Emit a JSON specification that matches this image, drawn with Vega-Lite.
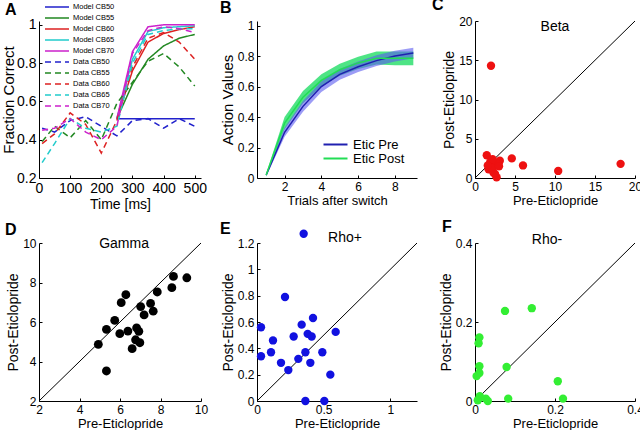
{
  "$schema": "https://vega.github.io/schema/vega-lite/v6.json",
  "padding": {"left": 1, "top": -3, "right": 0, "bottom": 0},
  "background": "white",
  "columns": 3,
  "spacing": {"row": 64, "column": 56},
  "bounds": "flush",
  "align": "all",
  "resolve": {"scale": {"color": "independent", "strokeDash": "independent", "x": "independent", "y": "independent"}, "legend": {"color": "independent", "strokeDash": "independent"}},
  "config": {
    "font": "Liberation Sans",
    "view": {"stroke": null},
    "axis": {"domainColor": "black", "tickColor": "black", "labelColor": "black", "titleColor": "black", "grid": false, "labelFontSize": 12, "titleFontSize": 13, "titleFontWeight": "normal", "tickSize": -3, "labelPadding": 6, "titlePadding": 2, "labelFont": "Liberation Sans", "titleFont": "Liberation Sans", "format": "~f", "labelOverlap": false, "labelFlush": false},
    "axisY": {"titleFontSize": 14},
    "title": {"font": "Liberation Sans", "fontSize": 16, "fontWeight": "bold", "anchor": "start", "color": "black", "frame": "group", "baseline": "alphabetic"}
  },
  "concat": [
    {
      "title": {"text": "A", "dx": -34, "offset": -16},
      "width": 162, "height": 157,
      "data": {"values": [
        {"t": 250, "v": 0.51, "s": "Model CB50"}, {"t": 300, "v": 0.51, "s": "Model CB50"}, {"t": 350, "v": 0.51, "s": "Model CB50"}, {"t": 400, "v": 0.51, "s": "Model CB50"}, {"t": 450, "v": 0.51, "s": "Model CB50"}, {"t": 500, "v": 0.51, "s": "Model CB50"},
        {"t": 250, "v": 0.51, "s": "Model CB55"}, {"t": 300, "v": 0.69, "s": "Model CB55"}, {"t": 350, "v": 0.82, "s": "Model CB55"}, {"t": 400, "v": 0.89, "s": "Model CB55"}, {"t": 450, "v": 0.93, "s": "Model CB55"}, {"t": 500, "v": 0.95, "s": "Model CB55"},
        {"t": 250, "v": 0.51, "s": "Model CB60"}, {"t": 300, "v": 0.76, "s": "Model CB60"}, {"t": 350, "v": 0.91, "s": "Model CB60"}, {"t": 400, "v": 0.955, "s": "Model CB60"}, {"t": 450, "v": 0.975, "s": "Model CB60"}, {"t": 500, "v": 0.99, "s": "Model CB60"},
        {"t": 250, "v": 0.51, "s": "Model CB65"}, {"t": 300, "v": 0.82, "s": "Model CB65"}, {"t": 350, "v": 0.965, "s": "Model CB65"}, {"t": 400, "v": 0.985, "s": "Model CB65"}, {"t": 450, "v": 0.99, "s": "Model CB65"}, {"t": 500, "v": 0.995, "s": "Model CB65"},
        {"t": 250, "v": 0.51, "s": "Model CB70"}, {"t": 300, "v": 0.86, "s": "Model CB70"}, {"t": 350, "v": 0.99, "s": "Model CB70"}, {"t": 400, "v": 1.0, "s": "Model CB70"}, {"t": 450, "v": 1.0, "s": "Model CB70"}, {"t": 500, "v": 1.0, "s": "Model CB70"},
        {"t": 10, "v": 0.46, "s": "Data CB50"}, {"t": 50, "v": 0.44, "s": "Data CB50"}, {"t": 100, "v": 0.5, "s": "Data CB50"}, {"t": 150, "v": 0.52, "s": "Data CB50"}, {"t": 200, "v": 0.47, "s": "Data CB50"}, {"t": 250, "v": 0.42, "s": "Data CB50"}, {"t": 300, "v": 0.5, "s": "Data CB50"}, {"t": 350, "v": 0.51, "s": "Data CB50"}, {"t": 400, "v": 0.46, "s": "Data CB50"}, {"t": 450, "v": 0.51, "s": "Data CB50"}, {"t": 500, "v": 0.47, "s": "Data CB50"},
        {"t": 10, "v": 0.39, "s": "Data CB55"}, {"t": 50, "v": 0.47, "s": "Data CB55"}, {"t": 100, "v": 0.41, "s": "Data CB55"}, {"t": 150, "v": 0.5, "s": "Data CB55"}, {"t": 200, "v": 0.4, "s": "Data CB55"}, {"t": 250, "v": 0.59, "s": "Data CB55"}, {"t": 300, "v": 0.7, "s": "Data CB55"}, {"t": 350, "v": 0.81, "s": "Data CB55"}, {"t": 400, "v": 0.85, "s": "Data CB55"}, {"t": 450, "v": 0.78, "s": "Data CB55"}, {"t": 500, "v": 0.68, "s": "Data CB55"},
        {"t": 10, "v": 0.38, "s": "Data CB60"}, {"t": 50, "v": 0.43, "s": "Data CB60"}, {"t": 100, "v": 0.54, "s": "Data CB60"}, {"t": 150, "v": 0.48, "s": "Data CB60"}, {"t": 200, "v": 0.33, "s": "Data CB60"}, {"t": 250, "v": 0.5, "s": "Data CB60"}, {"t": 300, "v": 0.78, "s": "Data CB60"}, {"t": 350, "v": 0.93, "s": "Data CB60"}, {"t": 400, "v": 0.96, "s": "Data CB60"}, {"t": 450, "v": 0.91, "s": "Data CB60"}, {"t": 500, "v": 0.82, "s": "Data CB60"},
        {"t": 10, "v": 0.28, "s": "Data CB65"}, {"t": 50, "v": 0.38, "s": "Data CB65"}, {"t": 100, "v": 0.51, "s": "Data CB65"}, {"t": 150, "v": 0.46, "s": "Data CB65"}, {"t": 200, "v": 0.44, "s": "Data CB65"}, {"t": 250, "v": 0.47, "s": "Data CB65"}, {"t": 300, "v": 0.8, "s": "Data CB65"}, {"t": 350, "v": 0.95, "s": "Data CB65"}, {"t": 400, "v": 0.97, "s": "Data CB65"}, {"t": 450, "v": 0.98, "s": "Data CB65"}, {"t": 500, "v": 0.98, "s": "Data CB65"},
        {"t": 10, "v": 0.45, "s": "Data CB70"}, {"t": 50, "v": 0.46, "s": "Data CB70"}, {"t": 100, "v": 0.51, "s": "Data CB70"}, {"t": 150, "v": 0.44, "s": "Data CB70"}, {"t": 200, "v": 0.4, "s": "Data CB70"}, {"t": 250, "v": 0.47, "s": "Data CB70"}, {"t": 300, "v": 0.85, "s": "Data CB70"}, {"t": 350, "v": 0.97, "s": "Data CB70"}, {"t": 400, "v": 0.99, "s": "Data CB70"}, {"t": 450, "v": 0.98, "s": "Data CB70"}, {"t": 500, "v": 0.96, "s": "Data CB70"}
      ]},
      "mark": {"type": "line", "strokeWidth": 1.5},
      "encoding": {
        "x": {"field": "t", "type": "quantitative", "scale": {"domain": [0, 520], "nice": false}, "axis": {"values": [0, 100, 200, 300, 400, 500], "title": "Time [ms]", "labelFontSize": 14, "titleFontSize": 14, "labelOverlap": false}},
        "y": {"field": "v", "type": "quantitative", "scale": {"domain": [0.2, 1.02], "nice": false}, "axis": {"values": [0.2, 0.4, 0.6, 0.8, 1], "title": "Fraction Correct", "labelFontSize": 14, "titleFontSize": 15, "titlePadding": 0, "labelOverlap": false}},
        "color": {"field": "s", "type": "nominal", "sort": null, "scale": {"domain": ["Model CB50", "Model CB55", "Model CB60", "Model CB65", "Model CB70", "Data CB50", "Data CB55", "Data CB60", "Data CB65", "Data CB70"], "range": ["#2222cc", "#228822", "#dd2222", "#22cccc", "#cc22cc", "#2222cc", "#228822", "#dd2222", "#22cccc", "#cc22cc"]}, "legend": {"orient": "none", "legendX": 13, "legendY": -19, "title": null, "symbolType": "M-3,0H3", "symbolSize": 64, "symbolStrokeWidth": 1.5, "labelFontSize": 7.5, "rowPadding": 2, "labelOffset": 11}},
        "strokeDash": {"field": "s", "type": "nominal", "sort": null, "scale": {"domain": ["Model CB50", "Model CB55", "Model CB60", "Model CB65", "Model CB70", "Data CB50", "Data CB55", "Data CB60", "Data CB65", "Data CB70"], "range": [[1, 0], [1, 0], [1, 0], [1, 0], [1, 0], [6, 4], [6, 4], [6, 4], [6, 4], [6, 4]]}, "legend": {"orient": "none", "legendX": 13, "legendY": -19, "title": null}}
      }
    },
    {
      "title": {"text": "B", "dx": -37, "offset": 4},
      "width": 160, "height": 157,
      "data": {"values": [
        {"x": 1, "m": 0.02, "lo": 0.01, "hi": 0.03, "s": "Etic Pre"}, {"x": 2, "m": 0.3, "lo": 0.27, "hi": 0.33, "s": "Etic Pre"}, {"x": 3, "m": 0.47, "lo": 0.435, "hi": 0.505, "s": "Etic Pre"}, {"x": 4, "m": 0.6, "lo": 0.565, "hi": 0.635, "s": "Etic Pre"}, {"x": 5, "m": 0.68, "lo": 0.645, "hi": 0.715, "s": "Etic Pre"}, {"x": 6, "m": 0.73, "lo": 0.695, "hi": 0.765, "s": "Etic Pre"}, {"x": 7, "m": 0.77, "lo": 0.735, "hi": 0.805, "s": "Etic Pre"}, {"x": 8, "m": 0.8, "lo": 0.765, "hi": 0.835, "s": "Etic Pre"}, {"x": 9, "m": 0.82, "lo": 0.785, "hi": 0.855, "s": "Etic Pre"},
        {"x": 1, "m": 0.02, "lo": 0.01, "hi": 0.03, "s": "Etic Post"}, {"x": 2, "m": 0.36, "lo": 0.32, "hi": 0.4, "s": "Etic Post"}, {"x": 3, "m": 0.53, "lo": 0.49, "hi": 0.57, "s": "Etic Post"}, {"x": 4, "m": 0.64, "lo": 0.6, "hi": 0.68, "s": "Etic Post"}, {"x": 5, "m": 0.71, "lo": 0.67, "hi": 0.75, "s": "Etic Post"}, {"x": 6, "m": 0.755, "lo": 0.715, "hi": 0.795, "s": "Etic Post"}, {"x": 7, "m": 0.785, "lo": 0.745, "hi": 0.83, "s": "Etic Post"}, {"x": 8, "m": 0.785, "lo": 0.74, "hi": 0.83, "s": "Etic Post"}, {"x": 9, "m": 0.785, "lo": 0.74, "hi": 0.83, "s": "Etic Post"}
      ]},
      "encoding": {
        "x": {"field": "x", "type": "quantitative", "scale": {"domain": [0.5, 9.2], "nice": false}, "axis": {"values": [2, 4, 6, 8], "title": "Trials after switch", "labelOverlap": false}}
      },
      "layer": [
        {"transform": [{"filter": "datum.s == 'Etic Post'"}], "mark": {"type": "area", "color": "#22dd66", "opacity": 0.8}, "encoding": {"y": {"field": "lo", "type": "quantitative", "scale": {"domain": [0, 1.03], "nice": false}, "axis": {"values": [0, 0.2, 0.4, 0.6, 0.8, 1], "title": "Action Values", "titleFontSize": 15, "labelOverlap": false}}, "y2": {"field": "hi"}}},
        {"transform": [{"filter": "datum.s == 'Etic Pre'"}], "mark": {"type": "area", "color": "#5a5af0", "opacity": 0.6}, "encoding": {"y": {"field": "lo", "type": "quantitative", "axis": {"values": [0, 0.2, 0.4, 0.6, 0.8, 1], "title": "Action Values", "titleFontSize": 15, "labelOverlap": false}}, "y2": {"field": "hi"}}},
        {"mark": {"type": "line", "strokeWidth": 1.5}, "encoding": {"y": {"field": "m", "type": "quantitative", "axis": {"values": [0, 0.2, 0.4, 0.6, 0.8, 1], "title": "Action Values", "titleFontSize": 15, "labelOverlap": false}}, "color": {"field": "s", "type": "nominal", "sort": ["Etic Pre", "Etic Post"], "scale": {"domain": ["Etic Pre", "Etic Post"], "range": ["#2020b0", "#22dd55"]}, "legend": {"orient": "bottom-right", "offset": 12, "title": null, "symbolType": "M-3,0H3", "symbolSize": 64, "symbolStrokeWidth": 2, "labelFontSize": 13, "rowPadding": -1, "labelOffset": 11}}}}
      ]
    },
    {
      "title": {"text": "C", "dx": -43, "offset": 2},
      "width": 160, "height": 157,
      "data": {"values": [
        {"x": 2.0, "y": 14.3}, {"x": 1.47, "y": 2.9}, {"x": 4.6, "y": 2.5}, {"x": 3.1, "y": 2.2}, {"x": 6.0, "y": 1.6}, {"x": 10.4, "y": 0.9}, {"x": 18.2, "y": 1.8},
        {"x": 1.9, "y": 2.0}, {"x": 2.5, "y": 1.6}, {"x": 1.7, "y": 1.1}, {"x": 2.3, "y": 0.7}, {"x": 2.7, "y": 0.1}, {"x": 2.9, "y": 1.8}, {"x": 2.1, "y": 1.3}, {"x": 1.6, "y": 1.6}, {"x": 2.5, "y": 0.5}, {"x": 2.2, "y": 2.4}, {"x": 3.0, "y": 1.5}
      ]},
      "encoding": {
        "x": {"field": "x", "type": "quantitative", "scale": {"domain": [0, 20], "nice": false}, "axis": {"values": [0, 5, 10, 15, 20], "title": "Pre-Eticlopride", "labelOverlap": false}},
        "y": {"field": "y", "type": "quantitative", "scale": {"domain": [0, 20], "nice": false}, "axis": {"values": [0, 5, 10, 15, 20], "title": "Post-Eticlopride", "labelOverlap": false}}
      },
      "layer": [
        {"data": {"values": [{"x": 0, "y": 0, "x2": 20, "y2": 20}]}, "mark": {"type": "rule", "color": "black", "strokeWidth": 1}, "encoding": {"x2": {"field": "x2"}, "y2": {"field": "y2"}}},
        {"mark": {"type": "circle", "color": "#ee1111", "opacity": 1, "size": 70}},
        {"data": {"values": [{"x": 10, "y": 18.7, "label": "Beta"}]}, "mark": {"type": "text", "fontSize": 14, "baseline": "alphabetic", "align": "center", "color": "black"}, "encoding": {"text": {"field": "label"}}}
      ]
    },
    {
      "title": {"text": "D", "dx": -34, "offset": -1},
      "width": 162, "height": 158,
      "data": {"values": [
        {"x": 4.93, "y": 4.87}, {"x": 5.33, "y": 5.63}, {"x": 5.33, "y": 3.52}, {"x": 5.74, "y": 6.08}, {"x": 5.99, "y": 5.41}, {"x": 6.06, "y": 6.98}, {"x": 6.29, "y": 7.38}, {"x": 6.39, "y": 5.54}, {"x": 6.6, "y": 4.65}, {"x": 6.77, "y": 5.1}, {"x": 6.82, "y": 5.7}, {"x": 6.93, "y": 5.53}, {"x": 6.98, "y": 4.95}, {"x": 7.02, "y": 6.78}, {"x": 7.19, "y": 6.36}, {"x": 7.51, "y": 6.94}, {"x": 7.64, "y": 6.55}, {"x": 7.84, "y": 7.52}, {"x": 8.56, "y": 7.74}, {"x": 8.64, "y": 8.31}, {"x": 9.3, "y": 8.24}
      ]},
      "encoding": {
        "x": {"field": "x", "type": "quantitative", "scale": {"domain": [2, 10], "nice": false}, "axis": {"values": [2, 4, 6, 8, 10], "title": "Pre-Eticlopride", "labelOverlap": false}},
        "y": {"field": "y", "type": "quantitative", "scale": {"domain": [2, 10], "nice": false}, "axis": {"values": [2, 4, 6, 8, 10], "title": "Post-Eticlopride", "labelOverlap": false}}
      },
      "layer": [
        {"data": {"values": [{"x": 2, "y": 2, "x2": 10, "y2": 10}]}, "mark": {"type": "rule", "color": "black", "strokeWidth": 1}, "encoding": {"x2": {"field": "x2"}, "y2": {"field": "y2"}}},
        {"mark": {"type": "circle", "color": "black", "opacity": 1, "size": 78}},
        {"data": {"values": [{"x": 6.2, "y": 9.75, "label": "Gamma"}]}, "mark": {"type": "text", "fontSize": 14, "baseline": "alphabetic", "align": "center", "color": "black"}, "encoding": {"text": {"field": "label"}}}
      ]
    },
    {
      "title": {"text": "E", "dx": -37, "offset": -7},
      "width": 160, "height": 158,
      "data": {"values": [
        {"x": 0.35, "y": 1.27}, {"x": 0.21, "y": 0.79}, {"x": 0.03, "y": 0.56}, {"x": 0.03, "y": 0.34}, {"x": 0.105, "y": 0.37}, {"x": 0.12, "y": 0.46}, {"x": 0.18, "y": 0.29}, {"x": 0.235, "y": 0.235}, {"x": 0.275, "y": 0.49}, {"x": 0.31, "y": 0.32}, {"x": 0.335, "y": 0.58}, {"x": 0.363, "y": 0.37}, {"x": 0.38, "y": 0.51}, {"x": 0.41, "y": 0.49}, {"x": 0.42, "y": 0.63}, {"x": 0.4, "y": 0.29}, {"x": 0.49, "y": 0.37}, {"x": 0.55, "y": 0.2}, {"x": 0.59, "y": 0.525}, {"x": 0.363, "y": 0.0}, {"x": 0.505, "y": 0.0}
      ]},
      "encoding": {
        "x": {"field": "x", "type": "quantitative", "scale": {"domain": [0, 1.2], "nice": false}, "axis": {"values": [0, 0.5, 1], "title": "Pre-Eticlopride", "labelOverlap": false}},
        "y": {"field": "y", "type": "quantitative", "scale": {"domain": [0, 1.2], "nice": false}, "axis": {"values": [0, 0.2, 0.4, 0.6, 0.8, 1, 1.2], "title": "Post-Eticlopride", "labelOverlap": false}}
      },
      "layer": [
        {"data": {"values": [{"x": 0, "y": 0, "x2": 1.2, "y2": 1.2}]}, "mark": {"type": "rule", "color": "black", "strokeWidth": 1}, "encoding": {"x2": {"field": "x2"}, "y2": {"field": "y2"}}},
        {"mark": {"type": "circle", "color": "#1111e0", "opacity": 1, "size": 70}},
        {"data": {"values": [{"x": 0.66, "y": 1.21, "label": "Rho+"}]}, "mark": {"type": "text", "fontSize": 14, "baseline": "alphabetic", "align": "center", "color": "black"}, "encoding": {"text": {"field": "label"}}}
      ]
    },
    {
      "title": {"text": "F", "dx": -33, "offset": -2},
      "width": 160, "height": 158,
      "data": {"values": [
        {"x": 0.075, "y": 0.228}, {"x": 0.142, "y": 0.235}, {"x": 0.011, "y": 0.161}, {"x": 0.009, "y": 0.146}, {"x": 0.011, "y": 0.088}, {"x": 0.011, "y": 0.071}, {"x": 0.004, "y": 0.063}, {"x": 0.079, "y": 0.086}, {"x": 0.207, "y": 0.05}, {"x": 0.083, "y": 0.006}, {"x": 0.22, "y": 0.006}, {"x": 0.012, "y": 0.012}, {"x": 0.027, "y": 0.006}, {"x": 0.032, "y": 0.0}, {"x": 0.007, "y": 0.002}
      ]},
      "encoding": {
        "x": {"field": "x", "type": "quantitative", "scale": {"domain": [0, 0.4], "nice": false}, "axis": {"values": [0, 0.2, 0.4], "title": "Pre-Eticlopride", "labelOverlap": false}},
        "y": {"field": "y", "type": "quantitative", "scale": {"domain": [0, 0.4], "nice": false}, "axis": {"values": [0, 0.2, 0.4], "title": "Post-Eticlopride", "labelOverlap": false}}
      },
      "layer": [
        {"data": {"values": [{"x": 0, "y": 0, "x2": 0.4, "y2": 0.4}]}, "mark": {"type": "rule", "color": "black", "strokeWidth": 1}, "encoding": {"x2": {"field": "x2"}, "y2": {"field": "y2"}}},
        {"mark": {"type": "circle", "color": "#33ee33", "opacity": 1, "size": 70}},
        {"data": {"values": [{"x": 0.18, "y": 0.398, "label": "Rho-"}]}, "mark": {"type": "text", "fontSize": 14, "baseline": "alphabetic", "align": "center", "color": "black"}, "encoding": {"text": {"field": "label"}}}
      ]
    }
  ]
}
